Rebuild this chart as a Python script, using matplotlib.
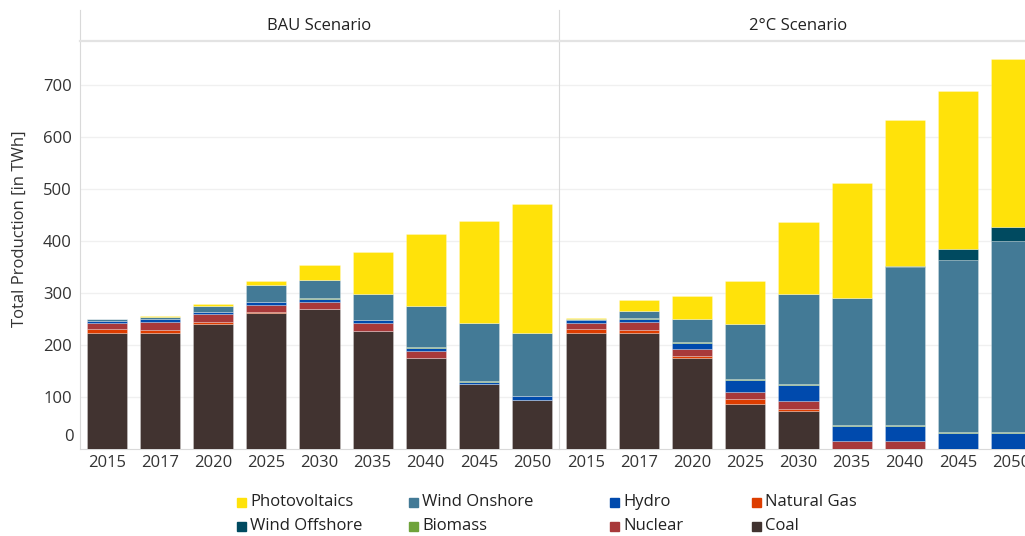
import matplotlib
matplotlib.use("Agg")
import matplotlib.pyplot as plt
from matplotlib.patches import Rectangle
import numpy as np

plt.rcParams['font.family'] = ['Open Sans', 'DejaVu Sans']

years = ['2015', '2017', '2020', '2025', '2030', '2035', '2040', '2045', '2050']
scenarios = ['BAU Scenario', '2°C Scenario']

# stacking order bottom -> top
sources = ['Coal', 'Natural Gas', 'Nuclear', 'Hydro', 'Biomass',
           'Wind Onshore', 'Wind Offshore', 'Photovoltaics']
colors = {
    'Coal': '#413330',
    'Natural Gas': '#dd3d00',
    'Nuclear': '#a8393a',
    'Hydro': '#004aad',
    'Biomass': '#6fa33b',
    'Wind Onshore': '#437a96',
    'Wind Offshore': '#004a60',
    'Photovoltaics': '#ffe20a',
}

bau_coal = [222.5, 221.8, 239.8, 261.0, 268.0, 226.3, 173.8, 124.4, 93.6]
bau_gas = [7.0, 7.1, 4.5, 1.2, 0.7, 0.7, 0.6, 0.0, 0.0]
bau_nuclear = [12.2, 14.8, 14.7, 13.5, 14.1, 13.5, 13.4, 0.0, 0.0]
bau_hydro = [3.3, 4.5, 3.2, 5.8, 5.1, 6.4, 6.5, 4.5, 7.0]
bau_biomass = [0.5, 0.5, 0.8, 0.8, 1.0, 1.0, 1.0, 1.0, 1.0]
bau_wind_on = [2.7, 4.6, 11.4, 32.5, 35.6, 48.4, 78.5, 112.5, 121.4]
bau_wind_off = [0.0, 0.0, 0.0, 0.0, 0.0, 0.0, 0.0, 0.0, 0.0]
bau_pv = [1.8, 1.9, 4.5, 8.4, 28.8, 82.7, 138.7, 195.0, 247.0]

c2_coal = [222.5, 221.8, 173.8, 86.5, 71.8, 0.0, 0.0, 0.0, 0.0]
c2_gas = [7.0, 7.1, 4.4, 8.4, 5.1, 0.0, 0.0, 0.0, 0.0]
c2_nuclear = [12.2, 14.1, 14.1, 14.1, 14.7, 14.0, 14.0, 0.0, 0.0]
c2_hydro = [5.2, 6.4, 11.0, 23.7, 30.8, 29.5, 29.5, 30.7, 30.7]
c2_biomass = [0.5, 0.8, 2.5, 1.0, 1.0, 1.0, 1.0, 1.0, 1.0]
c2_wind_on = [2.6, 14.0, 43.0, 105.5, 174.8, 246.0, 304.4, 331.3, 367.8]
c2_wind_off = [0.0, 0.0, 0.0, 0.0, 0.0, 0.0, 1.5, 21.1, 25.7]
c2_pv = [2.0, 22.4, 45.5, 83.3, 137.2, 220.0, 281.3, 303.9, 323.3]

data = {
    'BAU Scenario': [bau_coal, bau_gas, bau_nuclear, bau_hydro, bau_biomass,
                     bau_wind_on, bau_wind_off, bau_pv],
    '2°C Scenario': [c2_coal, c2_gas, c2_nuclear, c2_hydro, c2_biomass,
                     c2_wind_on, c2_wind_off, c2_pv],
}

W, H = 1025, 536
fig = plt.figure(figsize=(W / 100, H / 100), dpi=100)

def fx(px):
    return px / W

def fy(py):
    return 1 - py / H

ax_left = 80
ax_mid = 559
panel_w = ax_mid - ax_left
top_px = 41
bottom_px = 448.5
head_top = 10

line_col = '#d9d9d9'
grid_col = '#f0f0f0'
axes = []
for i, scen in enumerate(scenarios):
    x0 = ax_left + i * panel_w
    ax = fig.add_axes([fx(x0), fy(bottom_px), fx(panel_w), fy(top_px) - fy(bottom_px)])
    axes.append(ax)
    x = np.arange(len(years))
    bottom = np.zeros(len(years))
    for src, vals in zip(sources, data[scen]):
        vals = np.array(vals)
        ax.bar(x, vals, width=0.755, bottom=bottom, color=colors[src],
               edgecolor=(1, 1, 1, 0.35), linewidth=0.5, zorder=3)
        bottom += vals
    ax.set_xlim(-0.51, 8.51)
    ax.set_ylim(0, 784)
    ax.set_yticks([100, 200, 300, 400, 500, 600, 700])
    ax.grid(axis='y', color=grid_col, linewidth=1, zorder=0)
    ax.set_xticks(x)
    ax.set_xticklabels(years, fontsize=12, color='#333333')
    ax.tick_params(axis='x', length=0, pad=5)
    ax.tick_params(axis='y', length=0, pad=6, labelsize=12, labelcolor='#333333')
    for s in ['top', 'right']:
        ax.spines[s].set_visible(False)
    ax.spines['left'].set_color(line_col)
    ax.spines['bottom'].set_color(line_col)
    if i == 0:
        ax.annotate('0', xy=(0, 0), xycoords=('axes fraction', 'data'),
                    xytext=(-4.5, 8), textcoords='offset points',
                    ha='right', va='center', fontsize=12, color='#333333')
    else:
        ax.set_yticklabels([])

    # header
    hax = fig.add_axes([fx(x0), fy(top_px), fx(panel_w), fy(head_top) - fy(top_px)])
    hax.set_xticks([])
    hax.set_yticks([])
    for s in ['top', 'right']:
        hax.spines[s].set_visible(False)
    hax.spines['left'].set_color(line_col)
    hax.spines['bottom'].set_color('#e3e3e3')
    hax.spines['bottom'].set_linewidth(1.6)
    hax.text(0.5, 0.5, scen, ha='center', va='center', fontsize=12,
             color='#222222', transform=hax.transAxes)
    hax.patch.set_alpha(0)

fig.text(fx(20), fy(229), 'Total Production [in TWh]', rotation=90,
         ha='center', va='center', fontsize=12, color='#333333')

# legend (row-major layout as in the reference)
legend_order = ['Photovoltaics', 'Wind Onshore', 'Hydro', 'Natural Gas',
                'Wind Offshore', 'Biomass', 'Nuclear', 'Coal']
col_text_x = [250, 422, 623, 765]
row_y = [502, 526]
for k, name in enumerate(legend_order):
    r, c = divmod(k, 4)
    tx = col_text_x[c]
    ty = row_y[r]
    sq = 9
    fig.patches.append(Rectangle((fx(tx - 13), fy(ty + sq / 2)), fx(sq), sq / H,
                                 transform=fig.transFigure, color=colors[name],
                                 figure=fig))
    fig.text(fx(tx), fy(ty), name, ha='left', va='center', fontsize=12,
             color='#222222')

fig.savefig('out.png', dpi=100)
